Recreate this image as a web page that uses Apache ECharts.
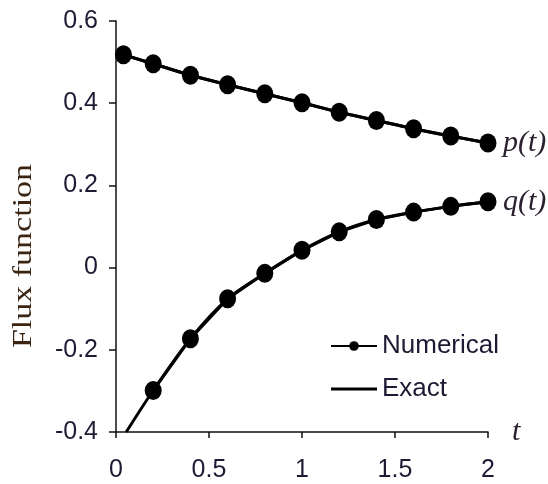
<!DOCTYPE html>
<html><head><meta charset="utf-8">
<script src="https://cdn.jsdelivr.net/npm/echarts@6/dist/echarts.min.js"></script>
<style>html,body{margin:0;padding:0;background:#fff}#c{width:548px;height:484px}</style>
</head><body><div id="c"></div>
<script>
// Numerical solution (markers)
const tNumP = [0.04, 0.2, 0.4, 0.6, 0.8, 1.0, 1.2, 1.4, 1.6, 1.8, 2.0];
const pNum  = [0.518, 0.496, 0.468, 0.445, 0.423, 0.401, 0.378, 0.358, 0.338, 0.320, 0.303];
const tNumQ = [0.2, 0.4, 0.6, 0.8, 1.0, 1.2, 1.4, 1.6, 1.8, 2.0];
const qNum  = [-0.299, -0.173, -0.076, -0.014, 0.042, 0.087, 0.117, 0.135, 0.149, 0.160];
// Exact solution (lines)
const tExactP = [0.04, 0.2, 0.4, 0.6, 0.8, 1.0, 1.2, 1.4, 1.6, 1.8, 2.0];
const pExact  = [0.518, 0.496, 0.468, 0.445, 0.423, 0.401, 0.378, 0.358, 0.338, 0.320, 0.303];
const tExactQ = [0.055, 0.2, 0.4, 0.6, 0.8, 1.0, 1.2, 1.4, 1.6, 1.8, 2.0];
const qExact  = [-0.4, -0.299, -0.173, -0.076, -0.014, 0.042, 0.087, 0.117, 0.135, 0.149, 0.160];
// Ticks
const xTicks = [0, 0.5, 1, 1.5, 2];
const xTickLabels = ['0', '0.5', '1', '1.5', '2'];
const yTicks = [-0.4, -0.2, 0, 0.2, 0.4, 0.6];
const yTickLabels = ['-0.4', '-0.2', '0', '0.2', '0.4', '0.6'];
const seriesNames = ['Numerical', 'Exact'];
const curveLabels = ['p(t)', 'q(t)'];
const yTitle = 'Flux function';
const xTitle = 't';

const pair = (xs, ys) => xs.map((x, i) => [x, ys[i]]);
const lab = (ticks, labels) => v => {
  const i = ticks.findIndex(t => Math.abs(t - v) < 1e-6);
  return i >= 0 ? labels[i] : '';
};
const SANS = "'Liberation Sans',Arial,sans-serif";
const SERIF = "'Liberation Serif','Times New Roman',serif";
const TXT = '#1e1a33';
const AX = '#111';
const FS = 25;

const chart = echarts.init(document.getElementById('c'), null, {renderer: 'canvas'});
const endLab = txt => ({
  show: true, formatter: txt, distance: 15,
  fontFamily: SERIF, fontStyle: 'italic', fontSize: 30, color: '#2a2030'
});
chart.setOption({
  animation: false,
  backgroundColor: '#fff',
  grid: {left: 116, right: 60, top: 21, bottom: 52, containLabel: false},
  xAxis: {
    type: 'value', min: 0, max: 2, interval: 0.5,
    name: xTitle, nameLocation: 'end', nameGap: 24,
    nameTextStyle: {fontFamily: SERIF, fontStyle: 'italic', fontSize: 30, color: '#2a2030', verticalAlign: 'middle', padding: [0, 0, 6, 0]},
    axisLine: {onZero: false, lineStyle: {color: AX, width: 1.5}},
    axisTick: {show: true, inside: false, length: 6, lineStyle: {color: AX, width: 1.5}},
    axisLabel: {margin: 26, fontFamily: SANS, fontSize: FS, color: TXT, formatter: lab(xTicks, xTickLabels)},
    splitLine: {show: false}
  },
  yAxis: {
    type: 'value', min: -0.4, max: 0.6, interval: 0.2,
    axisLine: {show: true, onZero: false, lineStyle: {color: AX, width: 1.5}},
    axisTick: {show: true, inside: false, length: 7, lineStyle: {color: AX, width: 1.5}},
    axisLabel: {margin: 18, fontFamily: SANS, fontSize: FS, color: TXT, formatter: lab(yTicks, yTickLabels)},
    splitLine: {show: false}
  },
  legend: {
    orient: 'vertical', left: 325, top: 327, padding: 5,
    itemWidth: 46, itemHeight: 12, itemGap: 15,
    textStyle: {fontFamily: SANS, fontSize: FS + 1, lineHeight: 28, color: TXT},
    data: [
      {name: seriesNames[0], lineStyle: {width: 2}},
      {name: seriesNames[1], icon: 'path://M0,0L46,0L46,3L0,3Z'}
    ]
  },
  graphic: [{
    type: 'text', x: 23.5, y: 256, rotation: Math.PI / 2, scaleX: 1, scaleY: 0.82,
    style: {text: yTitle, font: '34px ' + SERIF, fill: '#3b2412', align: 'center', verticalAlign: 'middle'}
  }],
  series: [
    {name: seriesNames[1], type: 'line', data: pair(tExactP, pExact), smooth: 0.3, symbol: 'none',
     lineStyle: {color: '#000', width: 3}, itemStyle: {color: '#000'}, z: 2},
    {name: seriesNames[1], type: 'line', data: pair(tExactQ, qExact), smooth: 0.3, symbol: 'none',
     lineStyle: {color: '#000', width: 3}, itemStyle: {color: '#000'}, z: 2},
    {name: seriesNames[0], type: 'line', data: pair(tNumP, pNum), symbol: 'circle', symbolSize: [17, 19],
     lineStyle: {color: '#000', width: 3}, itemStyle: {color: '#000'}, z: 3, endLabel: endLab(curveLabels[0])},
    {name: seriesNames[0], type: 'line', data: pair(tNumQ, qNum), symbol: 'circle', symbolSize: [17, 19],
     lineStyle: {color: '#000', width: 3}, itemStyle: {color: '#000'}, z: 3, endLabel: endLab(curveLabels[1])}
  ]
});
</script></body></html>
